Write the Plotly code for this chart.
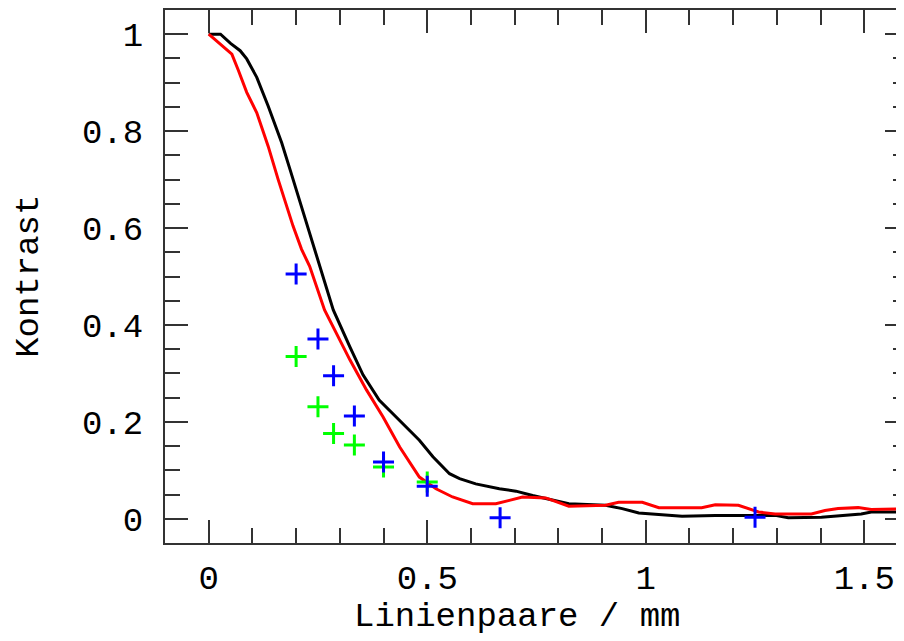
import plotly.graph_objects as go

# Measured MTF curves (Kontrast vs Linienpaare / mm)
black_x = [0.0, 0.027, 0.05, 0.072, 0.087, 0.11, 0.136, 0.167, 0.186, 0.205, 0.216, 0.243, 0.264, 0.285,
           0.323, 0.353, 0.39, 0.444, 0.482, 0.513, 0.551, 0.574, 0.611, 0.665, 0.703, 0.741, 0.779, 0.824,
           0.908, 0.946, 0.984, 1.083, 1.159, 1.235, 1.296, 1.326, 1.402, 1.493, 1.516, 1.6]
black_y = [1.0, 1.0, 0.981, 0.966, 0.949, 0.911, 0.852, 0.776, 0.721, 0.666, 0.631, 0.556, 0.49, 0.431,
           0.355, 0.297, 0.245, 0.197, 0.162, 0.128, 0.093, 0.083, 0.072, 0.062, 0.057, 0.048, 0.040, 0.031,
           0.028, 0.021, 0.012, 0.005, 0.007, 0.007, 0.007, 0.002, 0.003, 0.010, 0.014, 0.014]

red_x = [0.0, 0.053, 0.068, 0.087, 0.11, 0.136, 0.159, 0.171, 0.193, 0.2125, 0.231, 0.265, 0.323, 0.361,
         0.399, 0.437, 0.482, 0.52, 0.558, 0.604, 0.657, 0.688, 0.718, 0.771, 0.824, 0.908, 0.938, 0.992,
         1.03, 1.128, 1.159, 1.212, 1.258, 1.296, 1.379, 1.41, 1.44, 1.486, 1.516, 1.6]
red_y = [1.0, 0.959, 0.925, 0.88, 0.838, 0.769, 0.70, 0.666, 0.604, 0.556, 0.521, 0.431, 0.328, 0.266,
         0.210, 0.148, 0.086, 0.062, 0.045, 0.031, 0.031, 0.038, 0.045, 0.043, 0.026, 0.028, 0.034, 0.034,
         0.023, 0.023, 0.029, 0.028, 0.014, 0.010, 0.010, 0.017, 0.021, 0.023, 0.019, 0.021]

blue_x = [0.2, 0.25, 0.2857, 0.3333, 0.4, 0.5, 0.6667, 1.25]
blue_y = [0.505, 0.371, 0.295, 0.212, 0.117, 0.067, 0.002, 0.003]

green_x = [0.2, 0.25, 0.2857, 0.3333, 0.4, 0.5]
green_y = [0.335, 0.231, 0.176, 0.152, 0.107, 0.076]

x_tickvals = [0, 0.5, 1, 1.5]
x_ticktext = ["0", "0.5", "1", "1.5"]
y_tickvals = [0, 0.2, 0.4, 0.6, 0.8, 1]
y_ticktext = ["0", "0.2", "0.4", "0.6", "0.8", "1"]

FONT = "Liberation Mono, DejaVu Sans Mono, monospace"
AX = "#333333"
FS = 34

fig = go.Figure()
fig.add_trace(go.Scatter(x=black_x, y=black_y, mode="lines",
                         line=dict(color="black", width=3), showlegend=False))
fig.add_trace(go.Scatter(x=red_x, y=red_y, mode="lines",
                         line=dict(color="#ff0000", width=3), showlegend=False))
fig.add_trace(go.Scatter(x=green_x, y=green_y, mode="markers",
                         marker=dict(symbol="cross-thin", size=15, line=dict(color="#00ff00", width=3)),
                         showlegend=False))
fig.add_trace(go.Scatter(x=blue_x, y=blue_y, mode="markers",
                         marker=dict(symbol="cross-thin", size=15, line=dict(color="#0000ff", width=3)),
                         showlegend=False))

fig.update_layout(
    width=902, height=633,
    margin=dict(l=157, r=0, t=2, b=98),
    plot_bgcolor="white", paper_bgcolor="white",
    font=dict(family=FONT, size=FS, color="black"),
    xaxis=dict(range=[-0.1, 1.6], tickvals=x_tickvals, ticktext=x_ticktext,
               ticks="inside", ticklen=23, tickwidth=2, tickcolor=AX,
               minor=dict(dtick=0.1, tick0=0, ticks="inside", ticklen=15, tickwidth=2, tickcolor=AX),
               showline=True, linecolor=AX, linewidth=2, mirror="ticks",
               showgrid=False, zeroline=False, ticklabelstandoff=3,
               tickfont=dict(family=FONT, size=FS)),
    yaxis=dict(range=[-0.05, 1.05], tickvals=y_tickvals, ticktext=y_ticktext,
               ticks="inside", ticklen=23, tickwidth=2, tickcolor=AX,
               minor=dict(dtick=0.05, tick0=0, ticks="inside", ticklen=15, tickwidth=2, tickcolor=AX),
               showline=True, linecolor=AX, linewidth=2, mirror="ticks",
               showgrid=False, zeroline=False, ticklabelstandoff=13,
               tickfont=dict(family=FONT, size=FS)),
    annotations=[
        dict(text="Linienpaare / mm", xref="x", yref="paper", x=0.705, y=0,
             yshift=-74, xanchor="center", yanchor="middle", showarrow=False,
             font=dict(family=FONT, size=FS, color="black")),
        dict(text="Kontrast", xref="paper", yref="y", x=(28 - 165) / 745, y=0.5,
             textangle=-90, xanchor="center", yanchor="middle", showarrow=False,
             borderpad=0,
             font=dict(family=FONT, size=FS, color="black")),
    ],
)

fig.write_html("out.html")
